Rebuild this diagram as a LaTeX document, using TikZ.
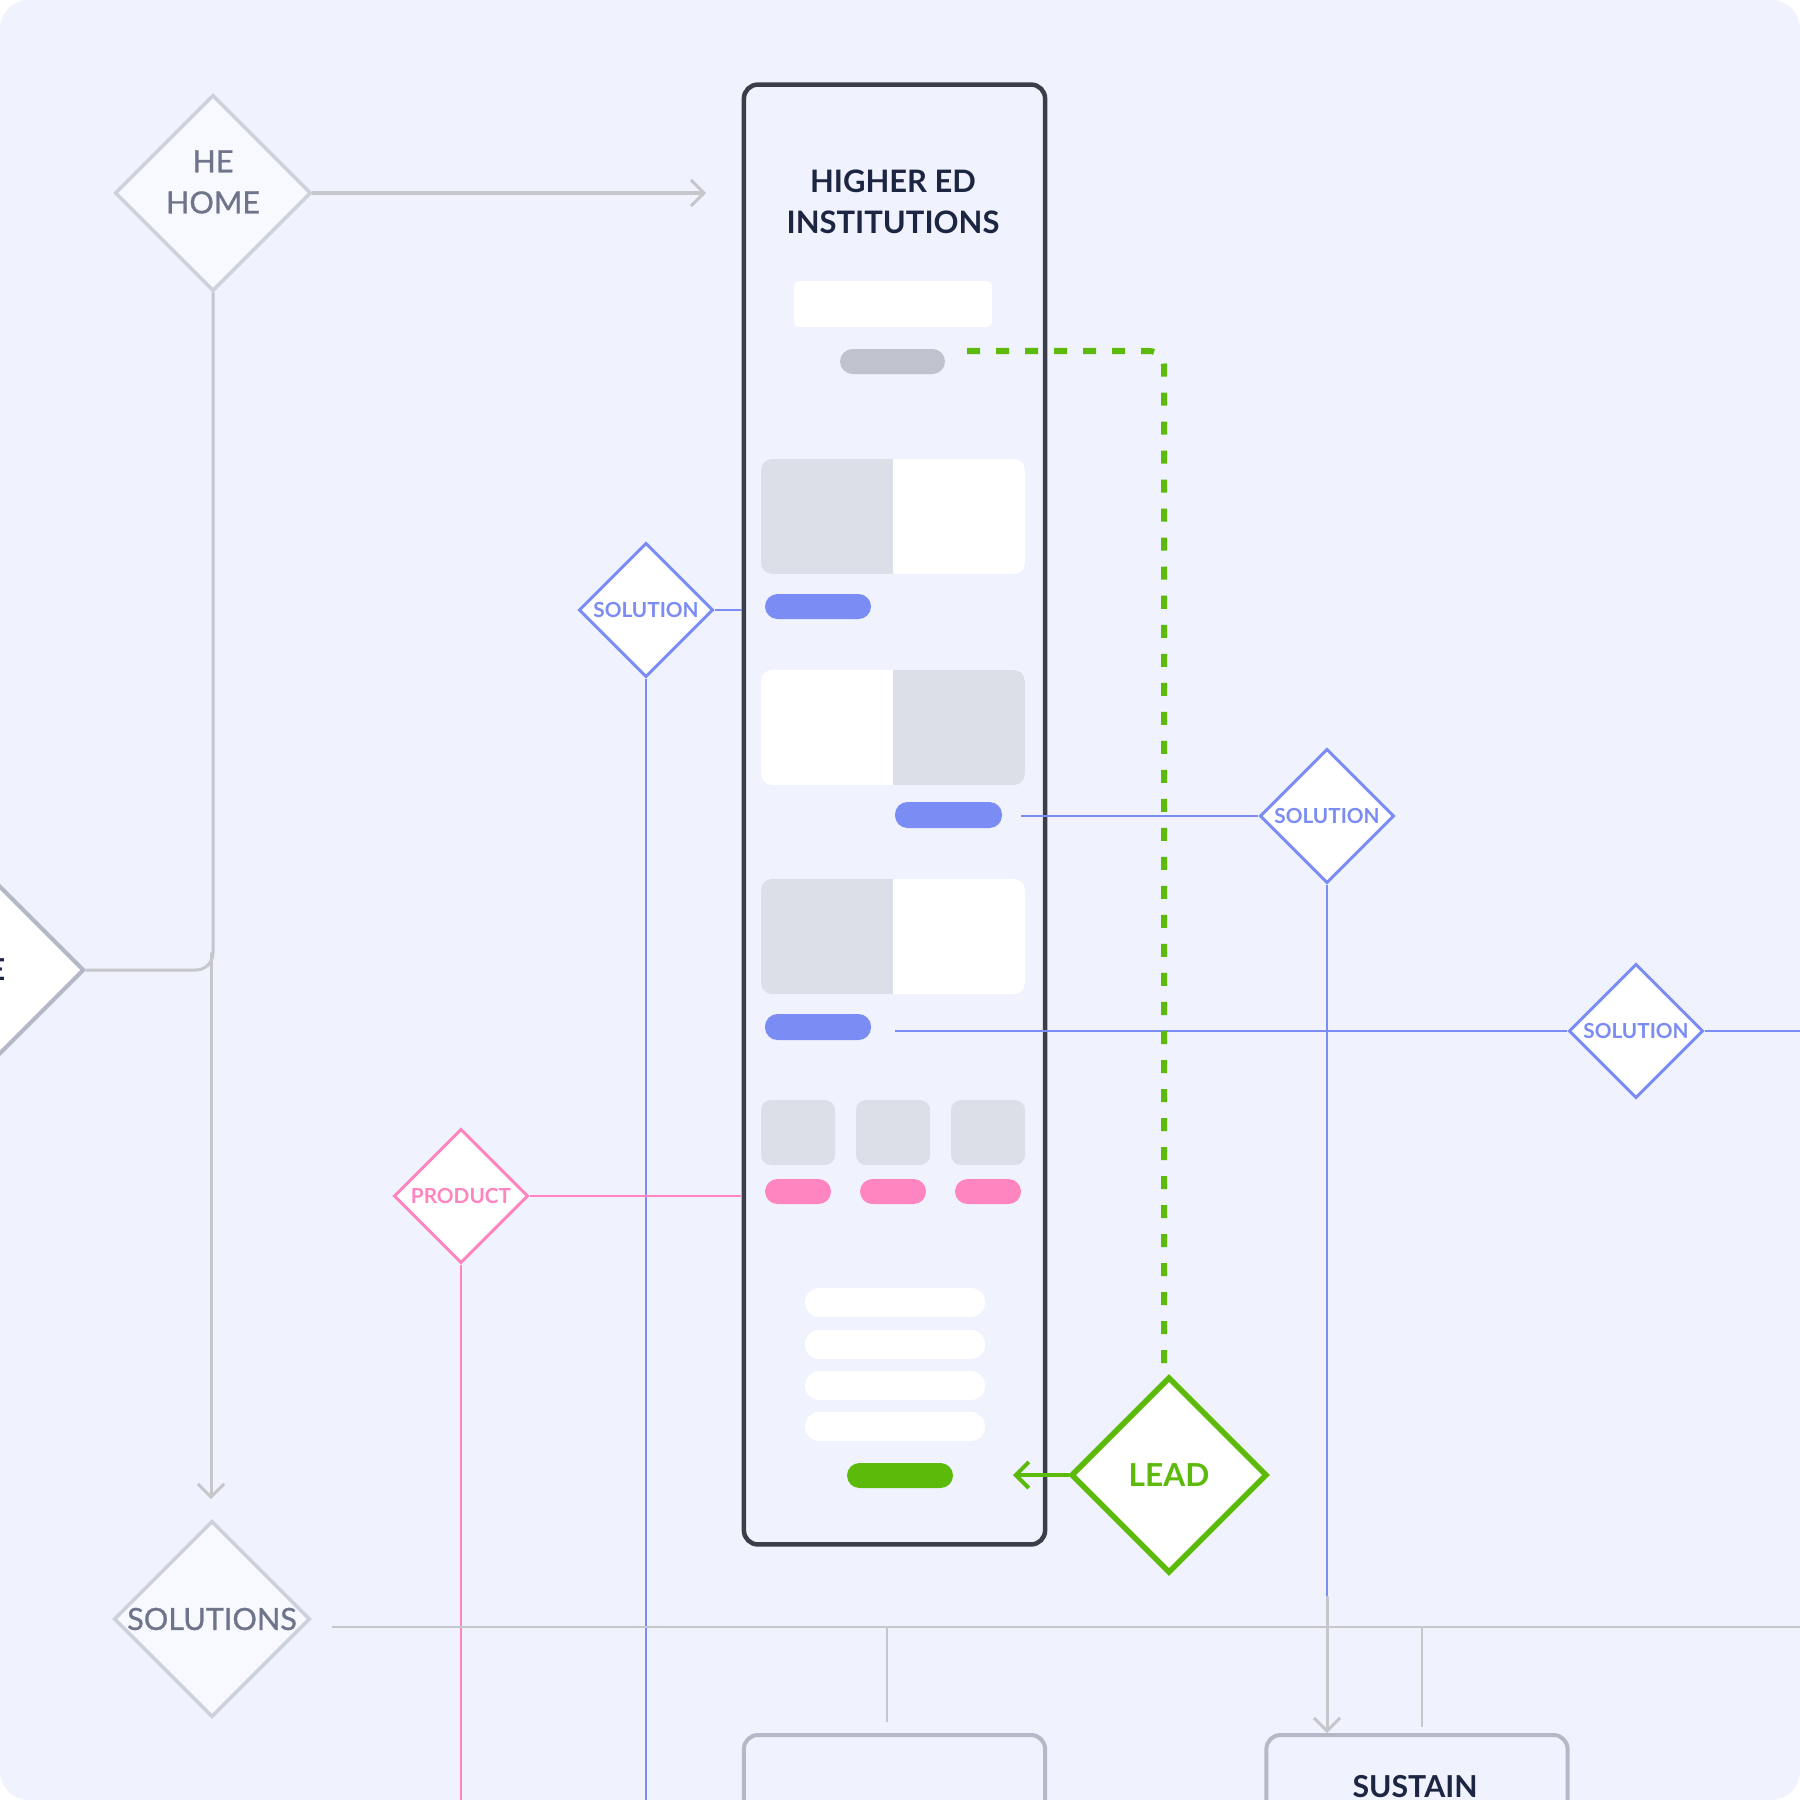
\documentclass[tikz,border=0pt]{standalone}
\usepackage{fontspec}
\setmainfont{Lato}
\newfontfamily\labelfont[FakeBold=0.8]{Lato}
\usetikzlibrary{shapes.geometric,arrows.meta}

\definecolor{bgpage}{HTML}{F0F3FE}
\definecolor{navy}{HTML}{1C2541}
\definecolor{framegray}{HTML}{3B3D49}
\definecolor{dialine}{HTML}{CDD1DC}
\definecolor{diafill}{HTML}{F8F9FE}
\definecolor{wiregray}{HTML}{C6C7CB}
\definecolor{labelgray}{HTML}{6E7489}
\definecolor{cardgray}{HTML}{DCDEE8}
\definecolor{pillgray}{HTML}{C0C2CE}
\definecolor{solblue}{HTML}{7B8CF5}
\definecolor{prodpink}{HTML}{FF85C1}
\definecolor{leadgreen}{HTML}{5CBA0A}
\definecolor{boxgray}{HTML}{B5B9C7}

\tikzset{
  pagedia/.style={diamond,draw=dialine,fill=diafill,line width=0.035cm,minimum width=1.96cm,minimum height=1.96cm,inner sep=0pt},
  pagelabel/.style={align=center,text=labelgray,inner sep=0pt,font=\labelfont\fontsize{8.7}{11.7}\selectfont},
  smalldia/.style={diamond,fill=white,line width=0.03cm,minimum width=1.34cm,minimum height=1.34cm,inner sep=0pt,font=\bfseries\fontsize{5.9}{7}\selectfont},
  soldia/.style={smalldia,draw=solblue,text=solblue},
  proddia/.style={smalldia,draw=prodpink,text=prodpink},
  leaddia/.style={diamond,draw=leadgreen,fill=white,line width=0.055cm,minimum width=1.96cm,minimum height=1.96cm,inner sep=0pt,text=leadgreen,font=\bfseries\fontsize{9}{11}\selectfont},
  pagebox/.style={draw=boxgray,line width=0.04cm,rounded corners=0.14cm,minimum width=3.01cm,minimum height=2cm,anchor=north},
  boxtitle/.style={text=navy,font=\bfseries\fontsize{8.6}{11.7}\selectfont,inner sep=0pt},
  wire/.style={wiregray,line width=0.03cm,line cap=round},
  wirearrow/.style={wire,-{Straight Barb[length=0.13cm,width=0.26cm]}},
  bluewire/.style={solblue,line width=0.015cm},
  pinkwire/.style={prodpink,line width=0.015cm}
}

\begin{document}
\begin{tikzpicture}[x=0.01cm,y=-0.01cm]
  \useasboundingbox (0,0) rectangle (1800,1800);
  \clip (0,0) rectangle (1800,1800);
  \fill[white] (0,0) rectangle (1800,1800);
  \fill[bgpage,rounded corners=0.29cm] (0,0) rectangle (1800,1800);

  % page mock-up
  \node[draw=framegray,line width=0.045cm,rounded corners=0.14cm,minimum width=3.01cm,minimum height=14.59cm] (frame) at (894.5,814.5) {};
  \node[align=center,text=navy,font=\bfseries\fontsize{8.8}{11.7}\selectfont] (title) at (893,202) {HIGHER ED\\INSTITUTIONS};
  \fill[white,rounded corners=0.05cm] (794,281) rectangle (992,327);
  \fill[pillgray,rounded corners=0.125cm] (840,349) rectangle (945,374);
  \foreach \cy/\gx in {459/761,670/893,879/761}{
    \begin{scope}
      \clip[rounded corners=0.11cm] (761,\cy) rectangle (1025,\cy+115);
      \fill[white] (761,\cy) rectangle (1025,\cy+115);
      \fill[cardgray] (\gx,\cy) rectangle (\gx+132,\cy+115);
    \end{scope}
  }
  \fill[solblue,rounded corners=0.125cm] (765,594) rectangle (871,619);
  \fill[solblue,rounded corners=0.125cm] (895,802) rectangle (1002,828);
  \fill[solblue,rounded corners=0.125cm] (765,1014) rectangle (871,1040);
  \foreach \sx in {761,856,951}{
    \fill[cardgray,rounded corners=0.1cm] (\sx,1100) rectangle (\sx+74,1165);
    \fill[prodpink,rounded corners=0.125cm] (\sx+4,1179) rectangle (\sx+70,1204);
  }
  \foreach \by in {1288,1330,1371,1412}
    \fill[white,rounded corners=0.14cm] (805,\by) rectangle (985,\by+29);
  \fill[leadgreen,rounded corners=0.125cm] (847,1463) rectangle (953,1488);

  % diamonds
  \node[pagedia] (hehome) at (213,193) {};
  \node[pagelabel] (hehometext) at (213,182) {HE\\HOME};
  \node[diamond,draw=boxgray,fill=white,line width=0.04cm,minimum width=3cm,minimum height=3cm] (prevpage) at (-66,970) {};
  \node[boxtitle,anchor=east] (prevtext) at (6,970) {E};
  \node[pagedia] (solutions) at (212,1619) {};
  \node[pagelabel] (solutionstext) at (212,1619) {SOLUTIONS};
  \node[soldia] (sol1) at (646,610) {SOLUTION};
  \node[soldia] (sol2) at (1327,816) {SOLUTION};
  \node[soldia] (sol3) at (1636,1031) {SOLUTION};
  \node[proddia] (product) at (461,1196) {PRODUCT};
  \node[leaddia] (lead) at (1169,1475) {LEAD};
  \node[pagebox] (leftbox) at (894.5,1733) {};
  \node[pagebox] (sustain) at (1417,1733) {};
  \node[boxtitle] (sustaintext) at (1415,1787) {SUSTAIN};

  \coordinate (heend) at (706,193);
  \coordinate (split) at (211,953);
  \coordinate (solin) at (211,1499);
  \coordinate (sol2from) at (1021,816);
  \coordinate (sol3from) at (895,1031);
  \coordinate (sol2end) at (1327,1597);
  \coordinate (dstart) at (967,351);
  \coordinate (leadend) at (1013,1475);
  \coordinate (busL) at (332,1627);
  \coordinate (busR) at (1800,1627);
  \coordinate (stubA) at (887,1722);
  \coordinate (stubB) at (1422,1727);

  % connectors
  \draw[wirearrow] (hehome.east) -- (heend);
  \draw[wire,rounded corners=0.17cm] (prevpage.east) -| (hehome.south);
  \draw[wirearrow] (split) -- (solin);
  \draw[bluewire] (sol1.east) -- (sol1.east -| frame.west);
  \draw[bluewire] (sol1.south) -- (sol1.south |- 0,1800);
  \draw[bluewire] (sol2from) -- (sol2.west);
  \draw[bluewire] (sol2.south) -- (sol2end);
  \draw[wirearrow] (sol2end) -- (sol2end |- sustain.north);
  \draw[bluewire] (sol3from) -- (sol3.west);
  \draw[bluewire] (sol3.east) -- (sol3.east -| 1800,0);
  \draw[pinkwire] (product.east) -- (product.east -| frame.west);
  \draw[pinkwire] (product.south) -- (product.south |- 0,1800);
  \draw[leadgreen,line width=0.06cm,dash pattern=on 0.13cm off 0.16cm,rounded corners=0.15cm] (dstart) -| ([xshift=-0.05cm,yshift=0.06cm]lead.north);
  \draw[leadgreen,line width=0.04cm,line cap=round,-{Straight Barb[length=0.13cm,width=0.26cm]}] (lead.west) -- (leadend);
  \draw[wiregray,line width=0.02cm] (busL) -- (busR);
  \draw[wiregray,line width=0.015cm] (stubA |- busL) -- (stubA);
  \draw[wiregray,line width=0.015cm] (stubB |- busL) -- (stubB);
\end{tikzpicture}
\end{document}
